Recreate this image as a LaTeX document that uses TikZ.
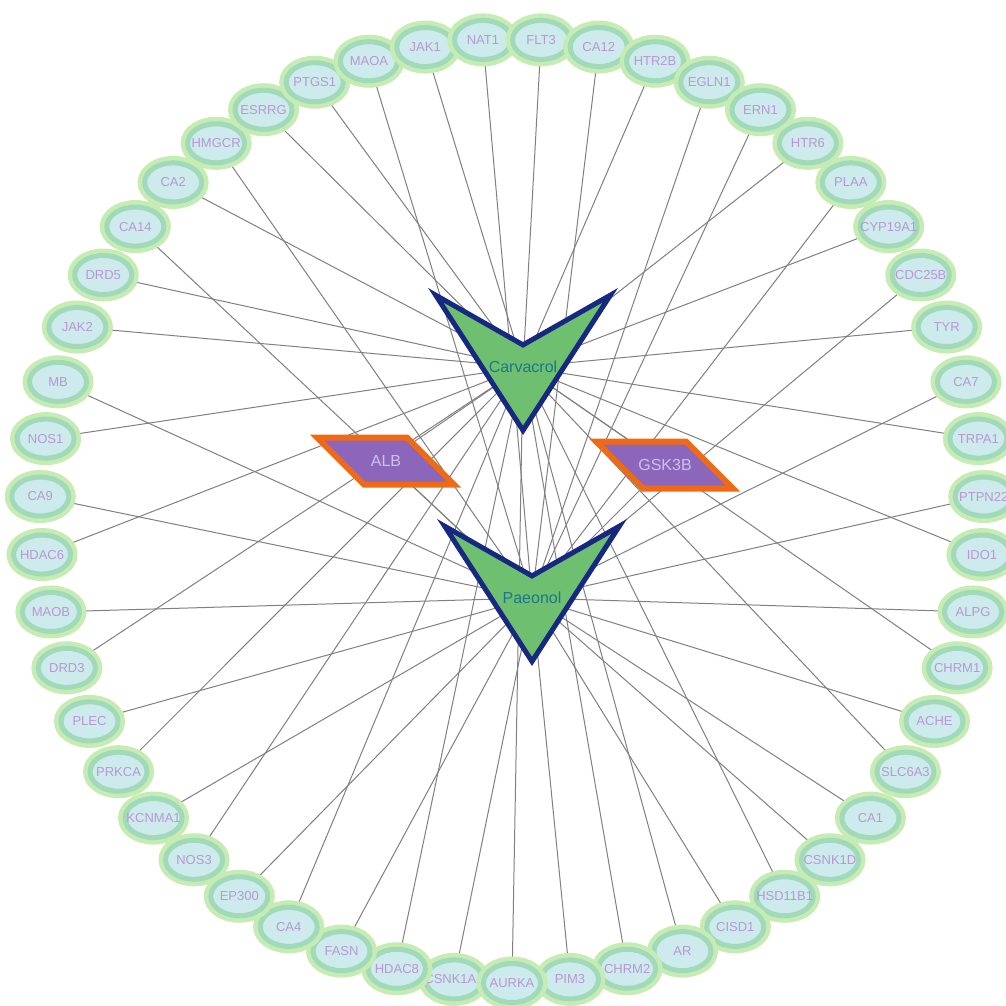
\documentclass[tikz,border=0pt]{standalone}
\usepackage{fontspec}
\setmainfont{Liberation Sans}
\usetikzlibrary{shapes.geometric,backgrounds}
\definecolor{ringout}{RGB}{198,236,180}
\definecolor{ringmid}{RGB}{160,218,184}
\definecolor{ringfill}{RGB}{205,235,236}
\definecolor{tgttext}{RGB}{186,150,212}
\definecolor{hubfill}{RGB}{110,192,112}
\definecolor{hubline}{RGB}{22,40,128}
\definecolor{hubtext}{RGB}{28,118,140}
\definecolor{comfill}{RGB}{140,102,186}
\definecolor{comline}{RGB}{240,106,22}
\definecolor{comtext}{RGB}{204,194,238}
\definecolor{linkgray}{RGB}{128,128,128}

\begin{document}
\begin{tikzpicture}[x=1pt, y=-1pt,
	target/.style={ellipse, minimum width=57pt, minimum height=39pt, inner sep=0pt, fill=ringfill, draw=ringmid, line width=5pt, preaction={draw=ringout, line width=14pt}},
	tlabel/.style={text=tgttext, inner sep=0pt, font=\fontsize{13}{15}\selectfont},
	hub/.style={text=hubtext, inner sep=1pt, font=\fontsize{16}{18}\selectfont},
	common/.style={text=comtext, inner sep=1pt, font=\fontsize{16}{18}\selectfont},
	vmark/.style={fill=hubfill, draw=hubline, line width=5pt, line join=miter},
	pmark/.style={fill=comfill, draw=comline, line width=6pt, line join=miter},
	link/.style={draw=linkgray, line width=1pt}]
	\useasboundingbox (0,0) rectangle (1006,1005);

	\foreach \hname/\hx/\hy in {Carvacrol/523/367, Paeonol/532/598} {
		\draw[vmark, shift={(\hx,\hy)}] (-87.3,-71.8) -- (0,-22.1) -- (87.3,-71.8) -- (0,63.4) -- cycle;
		\node[hub] (\hname) at (\hx,\hy) {\hname};
	}
	\foreach \cname/\cx/\cy in {ALB/386/461, GSK3B/665/465} {
		\draw[pmark, shift={(\cx,\cy)}] (-69,-23.5) -- (21,-23.5) -- (68,23.5) -- (-22,23.5) -- cycle;
		\node[common] (\cname) at (\cx,\cy) {\cname};
	}

	\begin{scope}[shift={(512,511)}]
		\foreach \name [count=\i from 1] in {CSNK1A1, HDAC8, FASN, CA4, EP300, NOS3, KCNMA1, PRKCA, PLEC, DRD3,
			MAOB, HDAC6, CA9, NOS1, MB, JAK2, DRD5, CA14, CA2, HMGCR, ESRRG, PTGS1, MAOA, JAK1, NAT1, FLT3,
			CA12, HTR2B, EGLN1, ERN1, HTR6, PLAA, CYP19A1, CDC25B, TYR, CA7, TRPA1, PTPN22, IDO1, ALPG, CHRM1,
			ACHE, SLC6A3, CA1, CSNK1D, HSD11B1, CISD1, AR, CHRM2, PIM3, AURKA} {
			\pgfmathsetmacro\ang{90+\i*7.0588235}
			\node[target, label={[tlabel]center:\name}] (\name) at (\ang:472) {};
		}
	\end{scope}

	\begin{scope}[on background layer]
		\fill[white] (0,0) rectangle (1006,1005);
		\foreach \t in {FLT3, HTR2B, HTR6, CYP19A1, TYR, TRPA1, IDO1, CHRM1, SLC6A3, HSD11B1, AR, CHRM2,
			AURKA, HDAC8, CA4, NOS3, PRKCA, DRD3, HDAC6, NOS1, JAK2, DRD5, CA2, ESRRG, PTGS1, JAK1, ALB, GSK3B}
			\draw[link] (\t) -- (Carvacrol.center);
		\foreach \t in {NAT1, CA12, EGLN1, ERN1, PLAA, CDC25B, CA7, PTPN22, ALPG, ACHE, CA1, CSNK1D, CISD1, PIM3,
			CSNK1A1, FASN, EP300, KCNMA1, PLEC, MAOB, CA9, MB, CA14, HMGCR, MAOA, ALB, GSK3B}
			\draw[link] (\t) -- (Paeonol.center);
	\end{scope}
\end{tikzpicture}
\end{document}
